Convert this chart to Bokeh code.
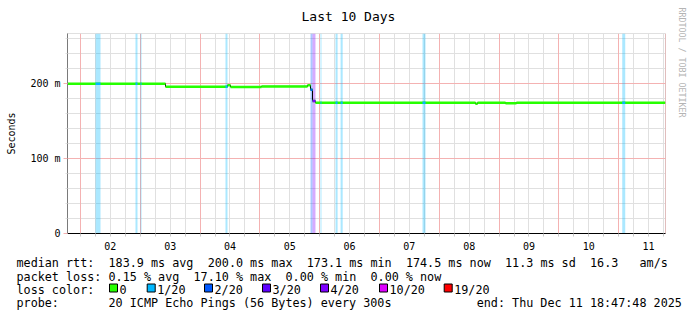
import numpy as np
from bokeh.plotting import figure
from bokeh.layouts import column, row
from bokeh.models import Range1d, FixedTicker, Grid, Span, Title
from bokeh.core.properties import value
from bokeh.embed import file_html
from bokeh.resources import INLINE

FONT = "DejaVu Sans Mono"

# ---------------- data ----------------
# time axis: fractional day of December 2025 (end: Thu Dec 11 18:47:48 2025, 10 days)
t_end = 11 + (18 + 47 / 60 + 48 / 3600) / 24
t_start = t_end - 10
day_labels = ["02", "03", "04", "05", "06", "07", "08", "09", "10", "11"]
day_noons = [2.5, 3.5, 4.5, 5.5, 6.5, 7.5, 8.5, 9.5, 10.5, 11.5]
midnights = [2, 3, 4, 5, 6, 7, 8, 9, 10, 11]
six_hours = [k / 4 for k in range(8, 48)]

y_max = 267.0
y_ticks = [0, 100, 200]
y_tick_labels = ["0", "100 m", "200 m"]
y_minor = [20, 40, 60, 80, 120, 140, 160, 180, 220, 240, 260]

# median rtt (ms) as steps: start time of each step and its value
med_t = [t_start, 3.422, 4.459, 4.509, 5.027, 5.797, 5.847, 5.880, 5.930, 8.606, 8.640, 9.108, 9.290]
med_v = [200.0, 196.0, 198.0, 195.6, 196.4, 198.0, 192.0, 177.0, 174.6, 173.1, 174.6, 173.8, 174.5]

# packet loss periods
loss_start = [2.2515, 2.920, 3.004, 4.425, 5.847, 5.880, 6.014, 6.265, 6.350, 7.720, 11.060]
loss_end = [2.3350, 2.954, 3.021, 4.459, 5.880, 5.930, 6.030, 6.300, 6.385, 7.770, 11.110]
loss_level = ["1/20", "1/20", "1/20", "1/20", "2/20", "4/20", "1/20", "1/20", "1/20", "1/20", "1/20"]

loss_names = ["0", "1/20", "2/20", "3/20", "4/20", "10/20", "19/20"]
loss_cols = ["#26ff00", "#00b8ff", "#0059ff", "#5e00ff", "#7e00ff", "#dd00ff", "#ff0000"]
loss_color = dict(zip(loss_names, loss_cols))

row1 = ["median rtt:", "183.9 ms avg", "200.0 ms max", "173.1 ms min", "174.5 ms now", "11.3 ms sd", "16.3", "am/s"]
row1_col = [0, 13, 27, 41, 55, 69, 81, 88]
row2 = ["packet loss:", "0.15 % avg", "17.10 % max", "0.00 % min", "0.00 % now"]
row2_col = [0, 13, 25, 38, 50]
row3_head = "loss color:"
row4 = ["probe:", "20 ICMP Echo Pings (56 Bytes) every 300s", "end: Thu Dec 11 18:47:48 2025"]
row4_col = [0, 13, 65]

title_text = "Last 10 Days"
watermark = "RRDTOOL / TOBI OETIKER"

# ---------------- main chart ----------------
W = 697
TOP_H = 254
p = figure(width=W, height=TOP_H, output_backend="svg", toolbar_location=None,
           x_range=Range1d(t_start, t_end), y_range=Range1d(0, y_max),
           min_border_left=67, min_border_right=32, min_border_top=33, min_border_bottom=21,
           background_fill_color="white", border_fill_color="white",
           outline_line_color="#e0e0e0")

p.title.text = title_text
p.title.align = "left"
p.title.offset = 234
p.title.vertical_align = "top"
p.title.text_font = FONT
p.title.text_font_size = "13px"
p.title.text_font_style = "normal"
p.title.text_color = "black"
p.title.standoff = 15

p.add_layout(Title(text=watermark, align="left", offset=-26, vertical_align="top",
                   text_font=FONT, text_font_size="8.3px", text_font_style="normal",
                   text_color="#b4b4b4", standoff=19), "right")

p.xgrid.grid_line_color = None
p.ygrid.grid_line_color = None
GRAY = "#e0e0e0"
RED = "#f4b2b2"
p.add_layout(Grid(dimension=0, ticker=FixedTicker(ticks=six_hours), grid_line_color=GRAY))
p.add_layout(Grid(dimension=1, ticker=FixedTicker(ticks=y_minor), grid_line_color=GRAY))
p.add_layout(Grid(dimension=0, ticker=FixedTicker(ticks=midnights), grid_line_color=RED))
p.add_layout(Grid(dimension=1, ticker=FixedTicker(ticks=[100, 200]), grid_line_color=RED))

# loss bars
p.quad(left=loss_start, right=loss_end, bottom=0, top=y_max,
       fill_color=[loss_color[l] for l in loss_level], fill_alpha=0.33, line_color=None)

# median line: black connector then coloured segments
step_x = med_t + [t_end]
step_y = med_v + [med_v[-1]]
p.step(step_x, step_y, mode="after", line_color="black", line_width=1)
seg_x1 = med_t[1:] + [t_end]
p.segment(x0=med_t, x1=seg_x1, y0=med_v, y1=med_v, line_color=loss_color["0"], line_width=2.5)
idx = np.searchsorted(np.array(med_t), np.array(loss_start), side="right") - 1
loss_val = [med_v[i] for i in idx]
p.segment(x0=loss_start, x1=loss_end, y0=loss_val, y1=loss_val,
          line_color=[loss_color[l] for l in loss_level], line_width=2.5)

# right edge
p.add_layout(Span(location=t_end, dimension="height", line_color="#e29a9a", line_width=1))

# axes
ya = p.yaxis[0]
ya.ticker = FixedTicker(ticks=y_ticks, minor_ticks=y_minor)
ya.major_label_overrides = dict(zip(y_ticks, y_tick_labels))
ya.axis_line_color = "#7a7a7a"
ya.major_tick_line_color = RED
ya.minor_tick_line_color = GRAY
ya.major_tick_out = 4
ya.major_tick_in = 0
ya.minor_tick_out = 2
ya.minor_tick_in = 0
ya.major_label_standoff = 3
ya.major_label_text_font = FONT
ya.major_label_text_font_size = "10px"
ya.major_label_text_color = "black"
ya.axis_label = "Seconds"
ya.axis_label_text_font = FONT
ya.axis_label_text_font_size = "10px"
ya.axis_label_text_font_style = "normal"
ya.axis_label_text_color = "black"
ya.axis_label_standoff = 10

xa = p.xaxis[0]
xa.ticker = FixedTicker(ticks=day_noons, minor_ticks=six_hours)
xa.major_label_overrides = dict(zip(day_noons, day_labels))
xa.axis_line_color = "black"
xa.major_tick_out = 0
xa.major_tick_in = 0
xa.minor_tick_out = 3
xa.minor_tick_in = 0
xa.minor_tick_line_color = "#c8c8c8"
xa.major_label_standoff = 5
xa.major_label_text_font = FONT
xa.major_label_text_font_size = "10px"
xa.major_label_text_color = "black"

# ---------------- legend area ----------------
LEG_H = 321 - TOP_H
q = figure(width=W, height=LEG_H, output_backend="svg", toolbar_location=None,
           x_range=Range1d(0, W), y_range=Range1d(LEG_H, 0),
           x_axis_type=None, y_axis_type=None, min_border=0,
           min_border_left=0, min_border_right=0, min_border_top=0, min_border_bottom=0,
           outline_line_color=None, background_fill_color="white", border_fill_color="white")
q.xgrid.visible = False
q.ygrid.visible = False

X0 = 16
CW = 7.08
FS = value("11.75px")
base = [262 - TOP_H, 276 - TOP_H, 289 - TOP_H, 302 - TOP_H]

def row_text(texts, cols, yb):
    q.text(x=[X0 + c * CW for c in cols], y=[yb] * len(texts), text=texts,
           text_font=value(FONT), text_font_size=FS, text_baseline="alphabetic",
           text_align="left", text_color="black")

row_text(row1, row1_col, base[0])
row_text(row2, row2_col, base[1])
row_text([row3_head], [0], base[2])
row_text(row4, row4_col, base[3])

box_left = [109, 146.7, 204, 262, 320, 379, 443.7]
q.rect(x=[b + 4 for b in box_left], y=[287.5 - TOP_H] * len(box_left), width=8, height=8,
       fill_color=loss_cols, line_color="black", line_width=1)
q.text(x=[b + 10 for b in box_left], y=[base[2]] * len(box_left), text=loss_names,
       text_font=value(FONT), text_font_size=FS, text_baseline="alphabetic",
       text_align="left", text_color="black")

layout = column(p, row(q), spacing=0)
open("out.html", "w").write(file_html(layout, INLINE))
